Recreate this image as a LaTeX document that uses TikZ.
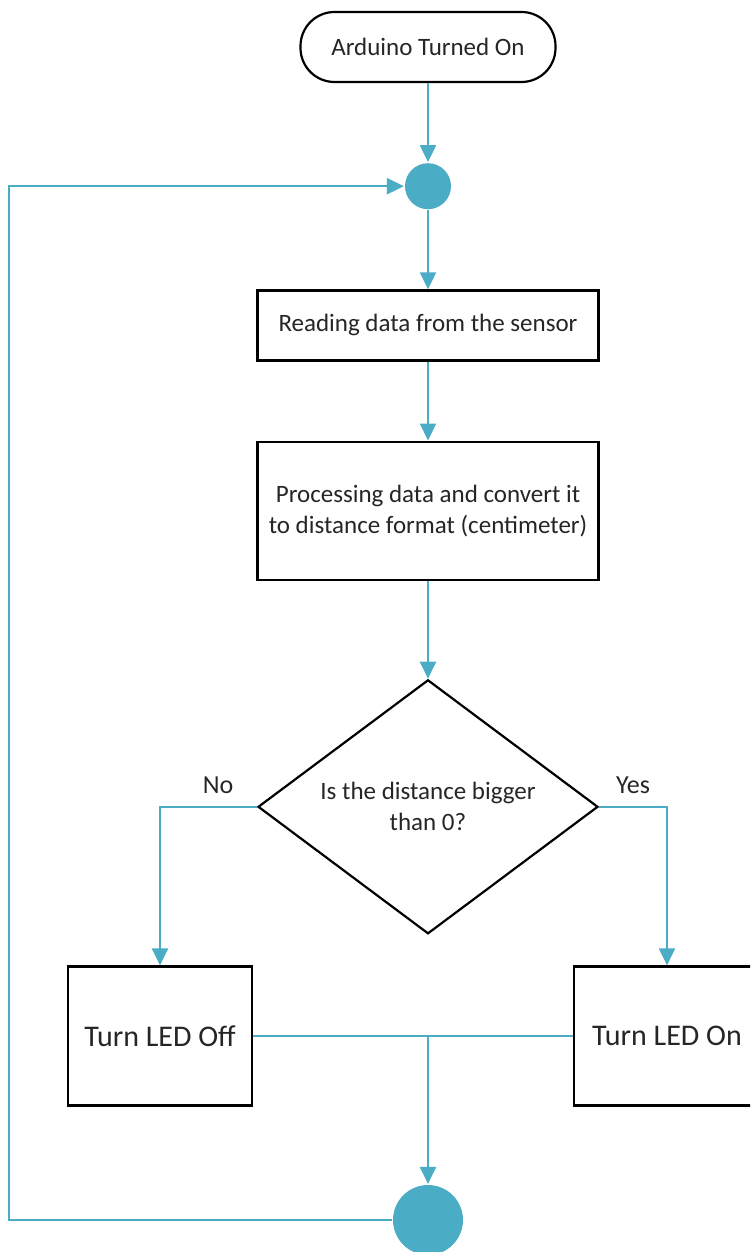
\documentclass[tikz,border=0pt]{standalone}
\usepackage{fontspec}
\setmainfont{Carlito}
\usetikzlibrary{arrows.meta}
\usetikzlibrary{positioning}
\usetikzlibrary{shapes.geometric}
\definecolor{flowblue}{RGB}{75,172,198}
\definecolor{textgray}{RGB}{38,38,38}

\begin{document}
\begin{tikzpicture}[x=1pt,y=1pt,->,>={Triangle[length=17pt,width=16pt]},
  line width=2.2pt,
  flow/.style={draw,color=flowblue},
  main node/.style={rectangle,draw=black,fill=white,text=textgray,
  font=\fontsize{25}{31}\selectfont,align=center,inner sep=4pt},
  led node/.style={main node,font=\fontsize{30}{36}\selectfont,
  minimum width=184pt,minimum height=139pt},
  start node/.style={main node,rounded corners=34pt,
  minimum width=255pt,minimum height=70pt},
  decision node/.style={diamond,draw=black,fill=white,text=textgray,
  font=\fontsize{25}{31}\selectfont,align=center,inner sep=0pt,
  aspect=1.34,minimum width=340pt,minimum height=254pt},
  join node/.style={circle,fill=flowblue,draw=none,inner sep=0pt},
  label node/.style={text=textgray,font=\fontsize{26}{30}\selectfont,
  inner sep=3pt,yshift=9pt}]

  \useasboundingbox (0,0) rectangle (750,-1252);
  \clip (0,0) rectangle (750,-1252);

  \node[start node] (ON) at (428,-47) {Arduino Turned On};
  \node[join node, minimum size=46pt] (J1) [below=79pt of ON] {};
  \node[main node, minimum width=341pt, minimum height=70pt] (RD) [below=79pt of J1] {Reading data from the sensor};
  \node[main node, minimum width=341pt, minimum height=138pt] (PR) [below=79pt of RD] {Processing data and convert it\\to distance format (centimeter)};
  \node[decision node] (DEC) [below=98pt of PR] {Is the distance bigger\\than 0?};
  \node[led node] (OFF) at (160,-1036) {Turn LED Off};
  \node[led node, minimum width=186pt] (LON) at (667,-1036) {Turn LED On};
  \node[join node, minimum size=70pt] (J2) at (428,-1220) {};
  \coordinate (M) at (OFF.east -| J2.north);
  \coordinate (L) at (9,-700);

  \path[flow]
  	%Start goes into first join point
  	(ON) edge[flow] (J1)
  	%Join point reads the sensor
  	(J1) edge[flow] (RD)
  	(RD) edge[flow] (PR)
  	%Processed distance goes to the check
  	(PR) edge[flow] (DEC);

  %Shows No and Yes branches
  \draw[flow] (DEC.west) -| node[label node, pos=0.2, above] {No} (OFF.north);
  \draw[flow] (DEC.east) -| node[label node, pos=0.25, above] {Yes} (LON.north);
  %Both LED boxes meet and go to the last join point
  \draw[flow,-] (OFF.east) -- (LON.west);
  \draw[flow] (M) -- (J2.north);
  %Loops back to the start of the cycle
  \draw[flow] (J2.west) -| (L) |- (J1.west);

\end{tikzpicture}
\end{document}
